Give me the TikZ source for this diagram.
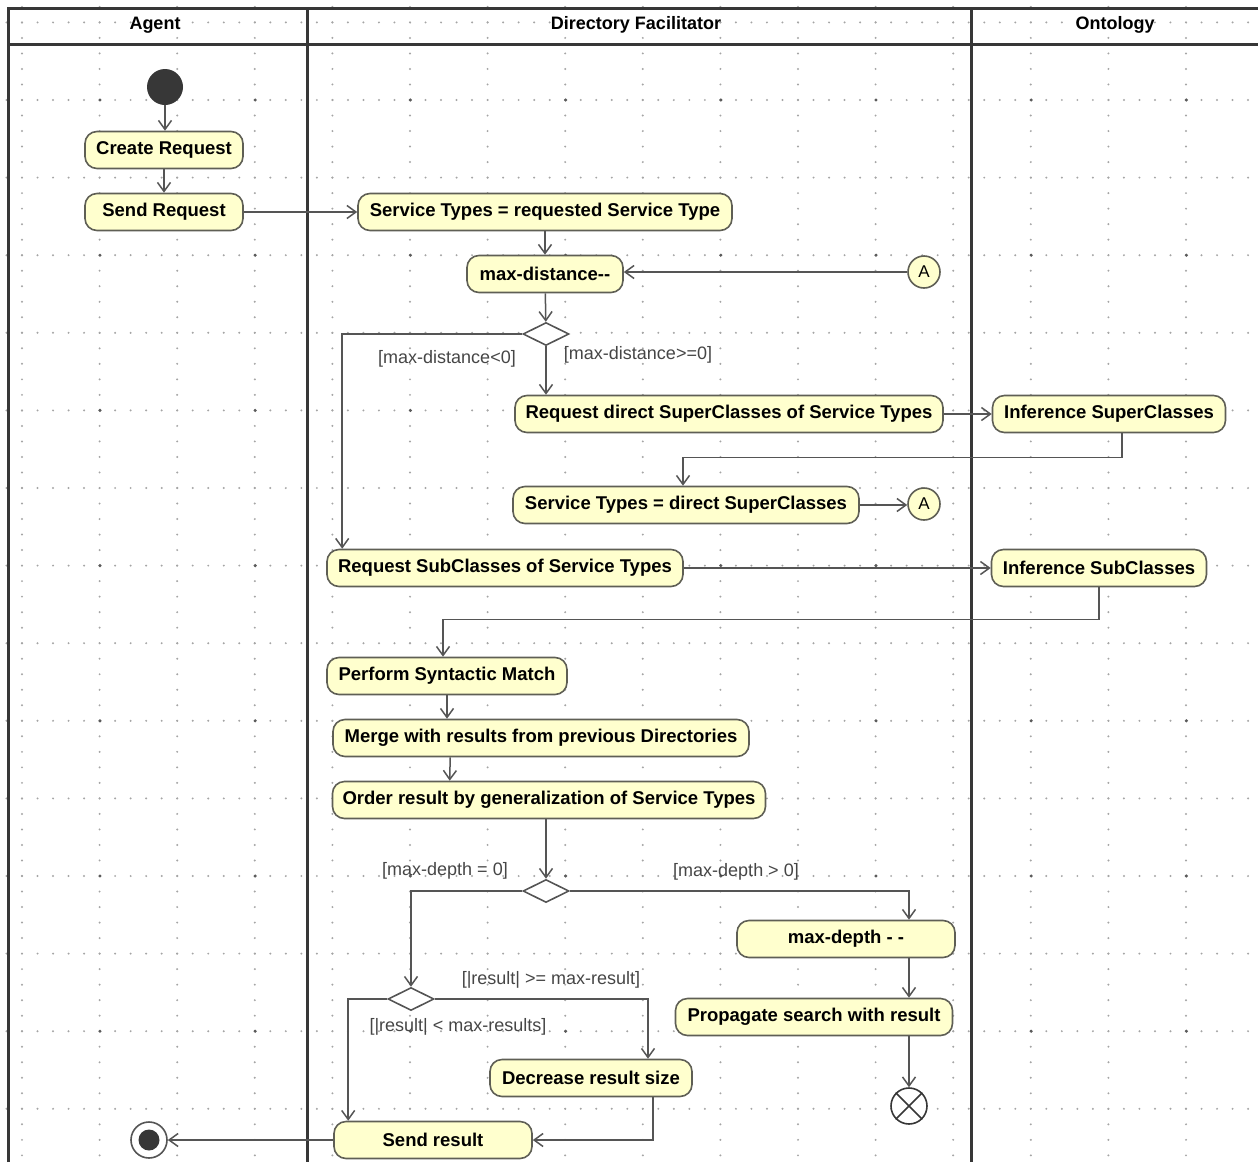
\documentclass[tikz,border=0pt]{standalone}
\usepackage{fontspec}
\setmainfont{Liberation Sans}
\usetikzlibrary{arrows.meta,shapes.geometric,calc}
\definecolor{nodefill}{RGB}{255,255,206}
\definecolor{nodeline}{RGB}{95,95,85}
\definecolor{conn}{RGB}{85,85,85}
\definecolor{frame}{RGB}{55,55,55}
\definecolor{griddot}{RGB}{165,165,165}
\definecolor{guardtxt}{RGB}{70,70,70}
\begin{document}
\begin{tikzpicture}[x=1pt,y=-1pt,
 act/.style={draw=nodeline, line width=1.6pt, fill=nodefill, rounded corners=12pt, minimum height=37pt, inner sep=0pt, font=\fontsize{18.5}{22}\selectfont\bfseries, text=black},
 dec/.style={diamond, draw=conn, line width=1.6pt, fill=white, minimum width=46pt, minimum height=23pt, inner sep=0pt},
 arr/.style={draw=conn, line width=1.5pt, -{Straight Barb[length=9pt,width=13pt]}},
 guard/.style={font=\fontsize{18}{21}\selectfont, text=guardtxt, inner sep=0pt},
 hdr/.style={font=\fontsize{18}{21}\selectfont\bfseries, inner sep=0pt},
 conncirc/.style={circle, draw=nodeline, line width=1.6pt, fill=nodefill, minimum size=32pt, inner sep=0pt, font=\fontsize{17}{19}\selectfont},
 lane/.style={draw=frame, line width=3pt},
 dotrow/.style={draw=griddot, line width=2.2pt, line cap=round, dash pattern=on 0pt off 15.52pt},
]
\fill[white] (0,0) rectangle (1258,1162);
\useasboundingbox (0,0) rectangle (1258,1162);
% grid
\foreach \k in {0,...,14} { \draw[dotrow] (6.48,{22.4+77.6*\k}) -- (1258,{22.4+77.6*\k}); }
\foreach \k in {0,...,15} { \draw[dotrow] ({22+77.6*\k},6.88) -- ({22+77.6*\k},1162); }
\foreach \i in {0,...,7} { \foreach \j in {0,...,6} { \fill[griddot!55!black] ({100+155.2*\i},{100+155.2*\j}) circle (1.7pt); } }
% swimlanes
\draw[lane] (8,1162) -- (8,8) -- (1258,8);
\draw[lane] (8,44) -- (1258,44);
\draw[lane] (307,8) -- (307,1162);
\draw[lane] (971,8) -- (971,1162);
\node[hdr] (hAgent) at (155,25) {Agent};
\node[hdr] (hDF) at (636,25) {Directory Facilitator};
\node[hdr] (hOnt) at (1115,25) {Ontology};
% nodes
\node[circle, fill=frame, minimum size=36pt, inner sep=0pt] (init) at (165,87) {};
\node[act, minimum width=158pt] (create) at (164,150) {Create Request};
\node[act, minimum width=158pt] (sendreq) at (164,212) {Send Request};
\node[act, minimum width=374pt] (st1) at (545,212) {Service Types = requested Service Type};
\node[act, minimum width=156pt] (maxd) at (545,274) {max-distance-{}-};
\node[conncirc] (A1) at (924,272) {A};
\node[dec] (d1) at (546,334) {};
\node[act, minimum width=428pt] (rsup) at (729,414) {Request direct SuperClasses of Service Types};
\node[act, minimum width=233pt] (isup) at (1109,414) {Inference SuperClasses};
\node[act, minimum width=346pt] (st2) at (686,505) {Service Types = direct SuperClasses};
\node[conncirc] (A2) at (924,504) {A};
\node[act, minimum width=356pt] (rsub) at (505,568) {Request SubClasses of Service Types};
\node[act, minimum width=215pt] (isub) at (1099,568) {Inference SubClasses};
\node[act, minimum width=240pt] (psm) at (447,676) {Perform Syntactic Match};
\node[act, minimum width=416pt] (merge) at (541,738) {Merge with results from previous Directories};
\node[act, minimum width=433pt] (order) at (549,800) {Order result by generalization of Service Types};
\node[dec] (d2) at (546,891) {};
\node[act, minimum width=218pt] (mdepth) at (846,939) {max-depth - -};
\node[act, minimum width=277pt] (prop) at (814,1017) {Propagate search with result};
\node[circle, draw=frame, line width=1.6pt, fill=white, minimum size=36pt, inner sep=0pt] (ff) at (909,1106) {};
\draw[frame, line width=1.6pt] (ff.north east) -- (ff.south west) (ff.north west) -- (ff.south east);
\node[dec] (d3) at (411,999) {};
\node[act, minimum width=202pt] (decr) at (591,1078) {Decrease result size};
\node[act, minimum width=198pt] (sendres) at (433,1140) {Send result};
\node[circle, draw=conn, line width=1.6pt, fill=white, minimum size=36pt, inner sep=0pt] (fin) at (149,1140) {};
\node[circle, fill=frame, minimum size=21pt, inner sep=0pt] (finin) at (fin) {};
% guards
\node[guard] (g1) at (447,359) {[max-distance<0]};
\node[guard] (g2) at (638,355) {[max-distance>=0]};
\node[guard] (g3) at (445,871) {[max-depth = 0]};
\node[guard] (g4) at (736,872) {[max-depth > 0]};
\node[guard] (g5) at (551,980) {[|result| >= max-result]};
\node[guard] (g6) at (458,1027) {[|result| < max-results]};
% connectors
\draw[arr] (init.south) -- (init.south |- create.north);
\draw[arr] (create) -- (sendreq);
\draw[arr] (sendreq) -- (st1);
\draw[arr] (st1) -- (maxd);
\draw[arr] (A1.west) -- (A1.west -| maxd.east);
\draw[arr] (maxd) -- (d1);
\draw[arr] (d1.west) -| ($(rsub.north west)+(16,0)$);
\draw[arr] (d1.south) -- (d1.south |- rsup.north);
\draw[arr] (rsup) -- (isup);
\draw[arr] ($(isup.south)+(13,0)$) -- ++(0,24) -| ($(st2.north)+(-3,0)$);
\draw[arr] (st2.east) -- (st2.east -| A2.west);
\draw[arr] (rsub) -- (isub);
\draw[arr] (isub.south) -- ++(0,32) -| ($(psm.north)+(-4,0)$);
\draw[arr] (psm.south) -- (psm.south |- merge.north);
\draw[arr] ($(merge.south west)+(118,0)$) -- ($(order.north west)+(118,0)$);
\draw[arr] (d2.north |- order.south) -- (d2.north);
\draw[arr] (d2.west) -| (d3.north);
\draw[arr] (d2.east) -| ($(mdepth.north)+(63,0)$);
\draw[arr] ($(mdepth.south)+(63,0)$) -- ($(prop.north)+(95,0)$);
\draw[arr] ($(prop.south)+(95,0)$) -- (ff.north);
\draw[arr] (d3.west) -| ($(sendres.north west)+(15,0)$);
\draw[arr] (d3.east) -| ($(decr.north)+(57,0)$);
\draw[arr] ($(decr.south)+(62,0)$) |- (sendres.east);
\draw[arr] (sendres.west) -- (fin.east);
\end{tikzpicture}
\end{document}
